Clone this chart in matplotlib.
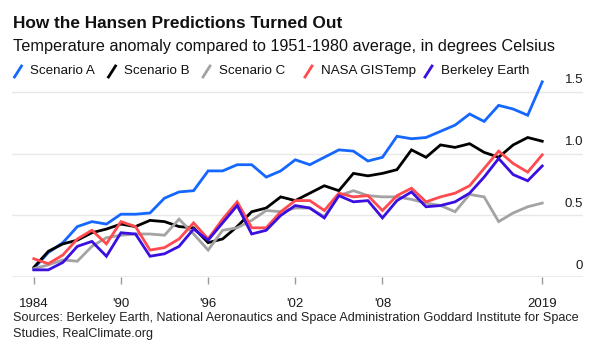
import matplotlib
matplotlib.use("Agg")
import matplotlib.pyplot as plt
from matplotlib.lines import Line2D

plt.rcParams['font.family'] = ['Liberation Sans', 'DejaVu Sans']

years = list(range(1984, 2020))
scenario_a = [0.07, 0.20, 0.28, 0.41, 0.45, 0.43, 0.51, 0.51, 0.52, 0.64, 0.69, 0.70,
              0.86, 0.86, 0.91, 0.91, 0.81, 0.86, 0.95, 0.91, 0.97, 1.03, 1.02, 0.94,
              0.97, 1.14, 1.12, 1.13, 1.18, 1.23, 1.32, 1.26, 1.39, 1.36, 1.31, 1.58]
scenario_b = [0.08, 0.21, 0.27, 0.30, 0.36, 0.39, 0.43, 0.41, 0.46, 0.45, 0.41, 0.40,
              0.28, 0.31, 0.41, 0.53, 0.56, 0.65, 0.62, 0.68, 0.74, 0.70, 0.84, 0.82,
              0.84, 0.87, 1.03, 0.97, 1.07, 1.05, 1.08, 1.01, 0.97, 1.07, 1.13, 1.10]
scenario_c = [0.07, 0.10, 0.14, 0.13, 0.25, 0.32, 0.34, 0.35, 0.35, 0.34, 0.47, 0.35,
              0.22, 0.38, 0.40, 0.46, 0.54, 0.53, 0.56, 0.56, 0.49, 0.66, 0.70, 0.66,
              0.65, 0.65, 0.63, 0.60, 0.58, 0.53, 0.67, 0.65, 0.45, 0.52, 0.57, 0.60]
nasa = [0.15, 0.11, 0.18, 0.31, 0.38, 0.27, 0.45, 0.41, 0.22, 0.24, 0.31, 0.44,
        0.31, 0.47, 0.61, 0.40, 0.40, 0.53, 0.62, 0.62, 0.54, 0.68, 0.65, 0.66,
        0.54, 0.66, 0.72, 0.61, 0.65, 0.68, 0.74, 0.88, 1.02, 0.92, 0.85, 0.99]
berkeley = [0.06, 0.06, 0.12, 0.25, 0.29, 0.17, 0.36, 0.35, 0.17, 0.19, 0.25, 0.39,
            0.30, 0.44, 0.58, 0.35, 0.38, 0.50, 0.58, 0.56, 0.48, 0.66, 0.61, 0.62,
            0.48, 0.62, 0.69, 0.57, 0.58, 0.61, 0.68, 0.81, 0.96, 0.83, 0.78, 0.90]

series_names = ["Scenario A", "Scenario B", "Scenario C", "NASA GISTemp", "Berkeley Earth"]
series_values = [scenario_a, scenario_b, scenario_c, nasa, berkeley]
series_colors = ["#1467ff", "#000000", "#a3a3a3", "#ff4a4f", "#3a0fe0"]

xtick_years = [1984, 1990, 1996, 2002, 2008, 2019]
xtick_labels = ["1984", "'90", "'96", "'02", "'08", "2019"]
ytick_values = [0, 0.5, 1.0, 1.5]
ytick_labels = ["0", "0.5", "1.0", "1.5"]

fig = plt.figure(figsize=(6.0, 3.54), dpi=100)
ax = fig.add_axes([0.02, 0.2167, 0.952, 0.5591])
ax.set_xlim(1982.5, 2021.82)
ax.set_ylim(0, 1.6)

for v in ytick_values[1:]:
    ax.axhline(v, color="#e8e8e8", lw=1.0, zorder=0)
ax.axhline(0, color="#9a9a9a", lw=1.0, zorder=1)

for name, vals, col in zip(series_names, series_values, series_colors):
    ax.plot(years, vals, color=col, lw=2.0, solid_joinstyle="miter", zorder=3)

for s in ax.spines.values():
    s.set_visible(False)
ax.set_yticks([])
ax.set_xticks(xtick_years)
ax.set_xticklabels(xtick_labels, fontsize=9.5, color="#1a1a1a")
ax.tick_params(axis="x", length=5, width=1, color="#9a9a9a", pad=10)

for v, lab in zip(ytick_values, ytick_labels):
    ax.annotate(lab, xy=(1.0, v), xycoords=("axes fraction", "data"),
                xytext=(0, 6), textcoords="offset points",
                ha="right", va="baseline", fontsize=9.5, color="#1a1a1a")

fig.text(0.022, 0.9218, "How the Hansen Predictions Turned Out",
         fontsize=12.4, fontweight="bold", color="#111111", va="baseline", ha="left")
fig.text(0.022, 0.856, "Temperature anomaly compared to 1951-1980 average, in degrees Celsius",
         fontsize=11.7, color="#111111", va="baseline", ha="left")

# legend
leg_x = [13.5, 107.5, 202, 304, 424]
leg_y = 354 - 71
for x0, name, col in zip(leg_x, series_names, series_colors):
    fig.add_artist(Line2D([(x0 + 1) / 600, (x0 + 8) / 600],
                          [(leg_y - 6) / 354, (leg_y + 5) / 354],
                          color=col, lw=2.0, transform=fig.transFigure))
    fig.text((x0 + 17) / 600, leg_y / 354, name, fontsize=9.6, color="#111111",
             va="center", ha="left")

fig.text(0.022, 1 - 321 / 354,
         "Sources: Berkeley Earth, National Aeronautics and Space Administration Goddard Institute for Space",
         fontsize=9.1, color="#222222", va="baseline", ha="left")
fig.text(0.022, 1 - 337 / 354, "Studies, RealClimate.org",
         fontsize=9.1, color="#222222", va="baseline", ha="left")

fig.savefig("out.png", dpi=100)
